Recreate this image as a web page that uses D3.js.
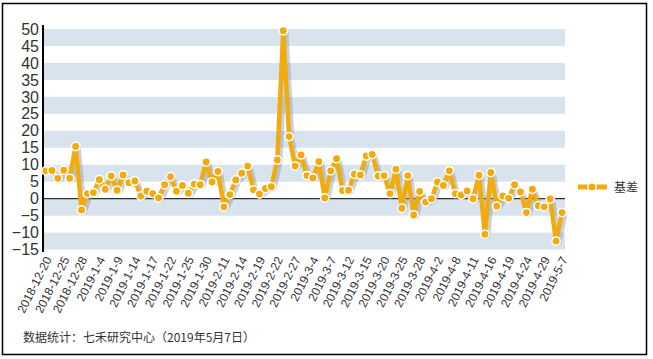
<!DOCTYPE html>
<html><head><meta charset="utf-8">
<script src="https://cdn.jsdelivr.net/npm/d3@7"></script>
<style>
body{margin:0;background:#fff;}
svg{display:block;font-family:"Liberation Sans",Arial,sans-serif;}
</style></head>
<body><svg id="c" width="653" height="359"></svg>
<script>
const dates = ["2018-12-20","2018-12-21","2018-12-24","2018-12-25","2018-12-26","2018-12-27","2018-12-28",
"2019-1-2","2019-1-3","2019-1-4","2019-1-7","2019-1-8","2019-1-9","2019-1-10","2019-1-11","2019-1-14",
"2019-1-15","2019-1-16","2019-1-17","2019-1-18","2019-1-21","2019-1-22","2019-1-23","2019-1-24","2019-1-25",
"2019-1-28","2019-1-29","2019-1-30","2019-1-31","2019-2-1","2019-2-11","2019-2-12","2019-2-13","2019-2-14",
"2019-2-15","2019-2-18","2019-2-19","2019-2-20","2019-2-21","2019-2-22","2019-2-25","2019-2-26","2019-2-27",
"2019-2-28","2019-3-1","2019-3-4","2019-3-5","2019-3-6","2019-3-7","2019-3-8","2019-3-11","2019-3-12",
"2019-3-13","2019-3-14","2019-3-15","2019-3-18","2019-3-19","2019-3-20","2019-3-21","2019-3-22","2019-3-25",
"2019-3-26","2019-3-27","2019-3-28","2019-3-29","2019-4-1","2019-4-2","2019-4-3","2019-4-4","2019-4-8",
"2019-4-9","2019-4-10","2019-4-11","2019-4-12","2019-4-15","2019-4-16","2019-4-17","2019-4-18","2019-4-19",
"2019-4-22","2019-4-23","2019-4-24","2019-4-25","2019-4-26","2019-4-29","2019-4-30","2019-5-6","2019-5-7"];
const basis = [8.2,8.3,6.0,8.4,6.0,15.4,-3.3,1.5,1.8,5.6,2.8,6.7,2.5,7.0,4.7,5.2,
0.8,2.2,1.5,0.2,4.1,6.5,2.2,3.9,1.6,4.3,4.1,10.8,4.9,8.0,-2.4,1.2,5.5,7.5,
9.6,2.6,1.4,3.0,3.5,11.4,49.5,18.3,9.6,12.9,6.8,6.1,10.9,0.2,8.2,11.8,2.4,2.5,
7.2,7.0,12.6,13.0,6.7,6.8,1.5,8.7,-2.8,6.8,-4.8,2.1,-1.0,0.0,4.9,3.9,8.2,
1.5,1.1,2.3,0.0,6.9,-10.5,7.7,-2.2,0.8,0.1,4.1,2.0,-4.1,2.8,-2.1,-2.4,-0.1,-12.5,-4.1];
const yTicks = [50,45,40,35,30,25,20,15,10,5,0,-5,-10,-15];
const seriesName = "基差";
const footer = "数据统计：七禾研究中心（2019年5月7日）";

const svg = d3.select("#c");
const L = 43, R = 565, T = 29, B = 249.6;
const x = d3.scalePoint().domain(dates).range([L, R]).padding(0.5);
const y = d3.scaleLinear().domain([-15, 50]).range([B, T]);

// outer border
svg.append("rect").attr("x",2.5).attr("y",3.5).attr("width",644).attr("height",351)
  .attr("fill","none").attr("stroke","#000").attr("stroke-width",1.5);

// bands
const bands = [];
for (let v = 50; v > -15; v -= 10) bands.push(v);
svg.append("g").selectAll("rect").data(bands).join("rect")
  .attr("x", L).attr("width", R - L)
  .attr("y", d => y(d)).attr("height", d => y(d - 5) - y(d))
  .attr("fill", "#d9e3ee");

// zero line
svg.append("line").attr("x1",L).attr("x2",R).attr("y1",y(0)).attr("y2",y(0))
  .attr("stroke","#333").attr("stroke-width",1.2);

// y axis
const yAxis = svg.append("g").attr("transform",`translate(${L},0)`)
  .call(d3.axisLeft(y).tickValues(yTicks).tickSize(0).tickPadding(4));
yAxis.select(".domain").remove();
yAxis.selectAll("text").attr("font-size",16).attr("fill","#333")
  .attr("font-family","'Liberation Sans',Arial,sans-serif");
svg.append("line").attr("x1",L).attr("x2",L).attr("y1",25).attr("y2",252)
  .attr("stroke","#000").attr("stroke-width",2);

// x axis labels
const xTicks = dates.filter((d,i) => i % 3 === 0);
const xAxis = svg.append("g").attr("transform",`translate(0,${B})`)
  .call(d3.axisBottom(x).tickValues(xTicks).tickSize(0).tickPadding(0));
xAxis.select(".domain").remove();
xAxis.selectAll("text")
  .attr("font-size",12).attr("fill","#333")
  .attr("font-family","'Liberation Sans',Arial,sans-serif")
  .attr("text-anchor","end")
  .attr("dy",null).attr("y",null)
  .attr("transform","translate(2,8) rotate(-63)")
  .attr("dominant-baseline","central");

// line
const line = d3.line().x((d,i) => x(dates[i])).y(d => y(d));
svg.append("path").datum(basis).attr("d", line)
  .attr("fill","none").attr("stroke","#8e9aab").attr("stroke-opacity",0.45)
  .attr("stroke-width",4.5).attr("stroke-linejoin","round")
  .attr("transform","translate(3,2)");
svg.append("path").datum(basis).attr("d", line)
  .attr("fill","none").attr("stroke","#f2ab0d").attr("stroke-width",4.5)
  .attr("stroke-linejoin","round");
svg.append("g").selectAll("circle").data(basis).join("circle")
  .attr("cx",(d,i) => x(dates[i])).attr("cy", d => y(d)).attr("r",4.2)
  .attr("fill","#f2ab0d").attr("stroke","#fff").attr("stroke-width",1.5);

// legend
const lg = svg.append("g");
lg.append("line").attr("x1",578).attr("x2",607).attr("y1",187).attr("y2",187)
  .attr("stroke","#f2ab0d").attr("stroke-width",5);
lg.append("circle").attr("cx",592).attr("cy",187).attr("r",4.2)
  .attr("fill","#f2ab0d").attr("stroke","#fff").attr("stroke-width",1.5);
lg.append("text").attr("x",614).attr("y",191.5).attr("font-size",12).attr("fill","#333")
  .attr("font-family","'Noto Sans CJK SC',sans-serif").text(seriesName);

// footer
svg.append("text").attr("x",23).attr("y",342).attr("font-size",12).attr("fill","#333")
  .attr("font-family","'Noto Sans CJK SC',sans-serif").text(footer);
</script></body></html>
